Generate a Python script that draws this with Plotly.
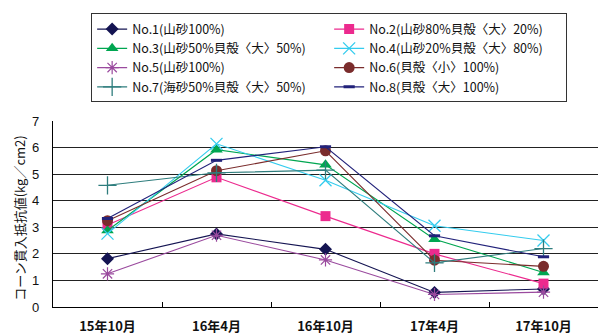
import plotly.graph_objects as go

# Survey dates (x categories)
dates = ["15年10月", "16年4月", "16年10月", "17年4月", "17年10月"]

# Cone penetration resistance (kg/cm2) per test plot
no1 = [1.82, 2.75, 2.17, 0.55, 0.68]
no2 = [3.09, 4.88, 3.42, 2.00, 0.88]
no3 = [2.88, 5.92, 5.35, 2.55, 1.30]
no4 = [2.76, 6.14, 4.77, 3.06, 2.50]
no5 = [1.25, 2.70, 1.77, 0.47, 0.56]
no6 = [3.25, 5.13, 5.88, 1.76, 1.53]
no7 = [4.58, 5.05, 5.15, 1.66, 2.20]
no8 = [3.33, 5.52, 6.03, 2.68, 1.89]

names = [
    "No.1(山砂100%)",
    "No.2(山砂80%貝殻〈大〉20%)",
    "No.3(山砂50%貝殻〈大〉50%)",
    "No.4(山砂20%貝殻〈大〉80%)",
    "No.5(山砂100%)",
    "No.6(貝殻〈小〉100%)",
    "No.7(海砂50%貝殻〈大〉50%)",
    "No.8(貝殻〈大〉100%)",
]
series = [no1, no2, no3, no4, no5, no6, no7, no8]

styles = [
    dict(color="#141452", symbol="diamond", size=10, lw=0),
    dict(color="#EC2A8E", symbol="square", size=10, lw=0),
    dict(color="#00A651", symbol="triangle-up", size=11, lw=0),
    dict(color="#33CCEE", symbol="x-thin-open", size=12, lw=1.3),
    dict(color="#9A4A9E", symbol="asterisk-open", size=11, lw=1.2),
    dict(color="#7A2C2C", symbol="circle", size=11, lw=0),
    dict(color="#2E7D7D", symbol="cross-thin-open", size=13, lw=1.3),
    dict(color="#22227A", symbol="line-ew-open", size=8, lw=3),
]

fig = go.Figure()
for name, vals, st in zip(names, series, styles):
    fig.add_trace(go.Scatter(
        x=dates, y=vals, name=name, mode="lines+markers",
        line=dict(color=st["color"], width=1.1),
        marker=dict(symbol=st["symbol"], size=st["size"], color=st["color"],
                    line=dict(color=st["color"], width=st["lw"])),
    ))

fig.add_annotation(
    text="コーン貫入抵抗値(kg／cm2)", textangle=-90,
    xref="paper", yref="paper", x=-0.0606, y=0.48,
    xanchor="center", yanchor="middle", showarrow=False,
    font=dict(family="Noto Sans CJK JP", size=13, color="#111"),
)

fig.update_layout(
    width=598, height=336,
    margin=dict(l=53, r=0, t=121, b=29),
    paper_bgcolor="white", plot_bgcolor="white",
    font=dict(family="Noto Sans CJK JP", color="#111"),
    showlegend=True,
    legend=dict(
        orientation="h", x=0.07, y=1.578, xanchor="left", yanchor="top",
        entrywidth=192, entrywidthmode="pixels",
        bordercolor="#333", borderwidth=1, bgcolor="white",
        font=dict(family="Noto Sans CJK JP", size=12.5, color="#111"),
        itemwidth=30, tracegroupgap=0,
    ),
    xaxis=dict(
        type="category", range=[-0.5, 4.5],
        showline=True, linecolor="#000", linewidth=1.2,
        ticks="inside", tickson="boundaries", ticklen=5, tickcolor="#000",
        showgrid=False, zeroline=False,
        tickfont=dict(family="Noto Sans CJK JP", size=13, color="#111", weight="bold"),
        ticklabelstandoff=7,
    ),
    yaxis=dict(
        range=[0, 7], dtick=1, tick0=0,
        showline=True, linecolor="#000", linewidth=1.2,
        showgrid=True, gridcolor="#222", gridwidth=1,
        zeroline=False, ticks="",
        tickfont=dict(family="Liberation Sans", size=13, color="#111"),
        ticklabelstandoff=10,
    ),
)

fig.write_html("out.html")
